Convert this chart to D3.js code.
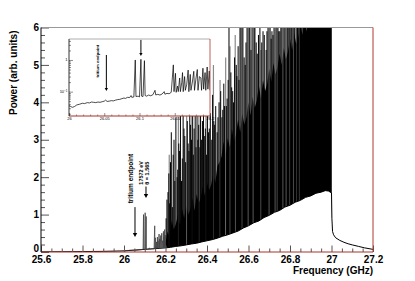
<!DOCTYPE html>
<html>
<head>
<meta charset="utf-8">
<script src="https://cdnjs.cloudflare.com/ajax/libs/d3/7.8.5/d3.min.js"></script>
<style>
body { margin: 0; background: #fff; }
svg { display: block; font-family: "Liberation Sans", Arial, sans-serif; }
.axis text { font-size: 10px; font-weight: bold; fill: #000; }
.axis line { stroke: #555; }
.axis path { display: none; }
.iaxis text { font-size: 4px; fill: #000; }
.iaxis line { stroke: #444; stroke-width: 0.6; }
.iaxis path { display: none; }
</style>
</head>
<body>
<svg width="415" height="281"></svg>
<script>
// ---- data ----
var xTicks = [25.6, 25.8, 26.0, 26.2, 26.4, 26.6, 26.8, 27.0, 27.2],
    xTickLabels = ["25.6", "25.8", "26", "26.2", "26.4", "26.6", "26.8", "27", "27.2"],
    yTicks = [0, 1, 2, 3, 4, 5, 6],
    yTickLabels = ["0", "1", "2", "3", "4", "5", "6"];

var insetXTicks = [26.0, 26.05, 26.1, 26.15, 26.2],
    insetXTickLabels = ["26", "26.05", "26.1", "26.15", "26.2"];

// lower edge of the spectrum (white below it)
var baseFreq  = [25.6, 25.7, 25.8, 25.9, 26.0, 26.05, 26.1, 26.15, 26.2, 26.225, 26.25, 26.275,
                 26.3, 26.325, 26.35, 26.375, 26.4, 26.425, 26.45, 26.475, 26.5, 26.525, 26.55,
                 26.575, 26.6, 26.625, 26.65, 26.675, 26.7, 26.725, 26.75, 26.775, 26.8, 26.825,
                 26.85, 26.875, 26.9, 26.925, 26.95, 26.97, 26.985, 27.0, 27.002, 27.005, 27.01,
                 27.02, 27.04, 27.06, 27.08, 27.1, 27.13, 27.16, 27.2],
    basePower = [0.004, 0.007, 0.011, 0.017, 0.03, 0.045, 0.065, 0.09, 0.11, 0.125, 0.15, 0.165,
                 0.19, 0.215, 0.235, 0.27, 0.30, 0.33, 0.37, 0.42, 0.46, 0.51, 0.56,
                 0.64, 0.70, 0.78, 0.83, 0.92, 0.98, 1.06, 1.11, 1.20, 1.25, 1.33,
                 1.38, 1.46, 1.50, 1.57, 1.60, 1.64, 1.63, 1.58, 0.9, 0.55, 0.46,
                 0.38, 0.31, 0.26, 0.22, 0.19, 0.15, 0.11, 0.07];

// top of the dense noise band
var bandFreq = [26.20, 26.21, 26.22, 26.23, 26.24, 26.25, 26.26, 26.27, 26.28, 26.29,
                26.30, 26.31, 26.32, 26.33, 26.34, 26.35, 26.36, 26.37, 26.38, 26.39,
                26.40, 26.41, 26.42, 26.43, 26.44, 26.45, 26.46, 26.47, 26.48, 26.49,
                26.50, 26.51, 26.52, 26.53, 26.54, 26.55, 26.56, 26.57, 26.58, 26.59,
                26.60, 26.61, 26.62, 26.63, 26.64, 26.65, 26.66, 26.67, 26.68, 26.69,
                26.70, 26.71, 26.72, 26.73, 26.74, 26.75, 26.76, 26.77, 26.78, 26.79,
                26.80, 26.81, 26.82, 26.83, 26.84, 26.85, 26.86, 26.87, 26.88, 26.89,
                26.90, 26.91, 26.92, 26.93, 26.94, 26.95, 26.96, 26.97, 26.98, 26.99, 27.00],
    bandTop = [0.25, 0.55, 0.40, 0.85, 0.60, 0.75, 1.00, 0.70, 1.15, 0.90,
               1.25, 1.00, 1.15, 1.45, 1.10, 1.55, 1.30, 1.45, 1.75, 1.50,
               1.85, 1.65, 1.80, 2.10, 1.85, 2.30, 2.40, 2.55, 2.95, 2.60,
               3.05, 2.80, 3.30, 2.95, 3.15, 3.55, 3.20, 3.70, 3.40, 3.60,
               4.00, 3.65, 4.15, 3.85, 4.05, 4.45, 4.10, 4.60, 4.30, 4.50,
               4.90, 4.55, 5.05, 4.75, 4.95, 5.30, 5.00, 5.45, 5.15, 5.35,
               5.70, 5.40, 5.85, 5.55, 5.75, 6.10, 5.80, 6.20, 5.90, 6.10,
               6.30, 6.00, 6.30, 6.10, 6.30, 6.20, 6.40, 6.10, 6.40, 6.20, 6.40];

// single lines sticking out of the band: [frequency, power]
var spikesBlack = [
  [26.203, 0.9], [26.207, 1.4], [26.212, 1.6], [26.216, 2.1], [26.220, 1.3], [26.224, 2.4],
  [26.228, 3.2], [26.233, 1.2], [26.237, 2.6], [26.241, 3.0], [26.245, 1.9], [26.250, 3.6],
  [26.256, 2.0], [26.259, 2.2], [26.264, 2.9], [26.268, 2.7], [26.272, 3.9], [26.277, 1.9],
  [26.281, 2.5], [26.285, 4.4], [26.289, 3.3], [26.293, 3.1], [26.297, 2.4], [26.305, 3.5],
  [26.309, 2.9], [26.313, 2.7], [26.317, 4.0], [26.321, 3.4], [26.325, 3.0], [26.331, 5.2],
  [26.334, 2.6], [26.338, 3.3], [26.343, 3.8], [26.347, 2.8], [26.352, 4.1], [26.356, 3.0],
  [26.360, 3.4], [26.366, 2.8], [26.369, 4.6], [26.374, 3.0], [26.378, 3.5], [26.383, 3.8],
  [26.389, 3.1], [26.392, 3.3], [26.398, 2.6], [26.402, 4.0], [26.407, 3.2], [26.411, 3.3],
  [26.416, 3.7], [26.423, 3.0], [26.427, 4.2], [26.433, 3.5], [26.437, 3.4], [26.442, 3.9],
  [26.449, 3.2], [26.453, 3.6], [26.458, 4.0], [26.466, 4.3], [26.472, 3.6], [26.476, 3.8],
  [26.481, 4.5], [26.484, 3.9], [26.493, 3.9], [26.497, 4.1], [26.502, 4.6], [26.506, 6.5],
  [26.515, 4.8], [26.519, 4.4], [26.524, 4.3], [26.528, 4.0], [26.533, 5.2], [26.541, 5.0],
  [26.544, 4.7], [26.550, 5.5], [26.554, 4.6], [26.559, 6.5], [26.564, 6.5], [26.573, 6.5],
  [26.579, 5.2], [26.584, 5.0], [26.588, 5.6], [26.593, 6.5], [26.603, 6.5], [26.607, 6.5],
  [26.612, 5.4], [26.617, 6.5], [26.627, 6.5], [26.631, 6.5], [26.637, 5.6], [26.642, 5.3],
  [26.648, 5.8], [26.655, 6.5], [26.664, 5.6], [26.670, 5.9], [26.676, 5.8], [26.685, 5.4],
  [26.689, 5.9], [26.694, 6.5], [26.704, 6.5], [26.709, 5.7], [26.713, 5.9], [26.718, 5.8],
  [26.723, 6.5], [26.733, 6.5], [26.742, 6.5], [26.746, 5.9], [26.751, 5.9], [26.756, 6.0],
  [26.761, 6.5], [26.771, 6.5], [26.776, 6.5], [26.786, 6.5], [26.790, 6.5], [26.795, 6.5],
  [26.801, 6.5], [26.808, 6.5], [26.814, 6.5], [26.821, 6.5], [26.829, 6.5], [26.836, 6.5],
  [26.842, 6.5], [26.848, 6.5], [26.852, 6.5], [26.857, 6.5], [26.862, 6.5], [26.866, 6.5],
  [26.871, 6.5], [26.875, 6.5], [26.881, 6.5], [26.885, 6.5], [26.890, 6.5], [26.895, 6.5],
  [26.899, 6.5], [26.904, 6.5], [26.908, 6.5], [26.913, 6.5], [26.917, 6.5], [26.922, 6.5],
  [26.926, 6.5], [26.931, 6.5], [26.935, 6.5], [26.940, 6.5], [26.944, 6.5], [26.949, 6.5],
  [26.953, 6.5], [26.958, 6.5], [26.962, 6.5], [26.967, 6.5], [26.971, 6.5], [26.976, 6.5],
  [26.980, 6.5], [26.985, 6.5], [26.989, 6.5], [26.994, 6.5], [26.998, 6.5]
];
var spikesGray = [
  [26.218, 2.6], [26.262, 3.6], [26.302, 4.5], [26.327, 3.9], [26.361, 4.8], [26.395, 4.2],
  [26.431, 5.0], [26.463, 4.6], [26.490, 5.2], [26.511, 5.5], [26.536, 5.8], [26.569, 6.5],
  [26.598, 6.5], [26.622, 6.5], [26.660, 5.4], [26.699, 6.5], [26.728, 6.5], [26.738, 6.5],
  [26.766, 6.5], [26.781, 6.5], [26.798, 6.5], [26.817, 6.5], [26.833, 6.5], [26.845, 6.5]
];

// zoomed region 26.0 - 26.2 (shown in the inset, log scale)
var zoomFreq = [26.000, 26.002, 26.005, 26.008, 26.011, 26.015, 26.019, 26.022, 26.026, 26.029,
                26.032, 26.035, 26.038, 26.041, 26.044, 26.047, 26.050, 26.052, 26.054, 26.057,
                26.060, 26.063, 26.066, 26.069, 26.072, 26.075, 26.078, 26.080, 26.083, 26.086,
                26.088, 26.089, 26.092, 26.094, 26.095, 26.098, 26.100, 26.102, 26.103, 26.105,
                26.107, 26.108, 26.110, 26.113, 26.116, 26.119, 26.122, 26.123, 26.126, 26.129,
                26.132, 26.135, 26.136, 26.139, 26.142, 26.145, 26.148, 26.149, 26.151, 26.152,
                26.154, 26.155, 26.157, 26.158, 26.160, 26.161, 26.162, 26.164, 26.165, 26.167,
                26.169, 26.170, 26.172, 26.173, 26.175, 26.177, 26.178, 26.180, 26.182, 26.183,
                26.185, 26.187, 26.188, 26.190, 26.191, 26.193, 26.194, 26.196, 26.197, 26.199, 26.200],
    zoomPower = [0.036, 0.034, 0.032, 0.034, 0.038, 0.040, 0.043, 0.042, 0.045, 0.044,
                 0.047, 0.046, 0.045, 0.047, 0.046, 0.048, 0.050, 0.054, 0.049, 0.050,
                 0.052, 0.051, 0.054, 0.056, 0.057, 0.060, 0.063, 0.061, 0.066, 0.065,
                 0.075, 0.066, 0.068, 1.00, 0.070, 0.072, 0.068, 1.05, 0.072, 0.070,
                 0.95, 0.075, 0.072, 0.078, 0.074, 0.080, 0.11, 0.079, 0.082, 0.078,
                 0.084, 0.10, 0.083, 0.088, 0.086, 0.095, 0.70, 0.10, 0.38, 0.095,
                 0.15, 0.10, 0.27, 0.10, 0.20, 0.40, 0.10, 0.30, 0.11, 0.17,
                 0.48, 0.10, 0.35, 0.11, 0.20, 0.44, 0.11, 0.25, 0.50, 0.11,
                 0.30, 0.27, 0.11, 0.55, 0.12, 0.40, 0.11, 0.60, 0.12, 0.45, 0.11];

// annotation arrows: frequency, start power, end power
var mainArrows = [[26.053, 1.2, 0.4], [26.106, 1.75, 1.44]],
    insetArrows = [[26.053, 1.44, 0.105], [26.102, 4.3, 1.34]];

// ---- layout ----
var svg = d3.select("svg"),
    margin = {top: 27.5, right: 42, bottom: 29, left: 41},
    width = +svg.attr("width") - margin.left - margin.right,
    height = +svg.attr("height") - margin.top - margin.bottom;

var x = d3.scaleLinear().domain([25.6, 27.2]).range([0, width]),
    y = d3.scaleLinear().domain([0, 6]).range([height, 0]);

var base = baseFreq.map(function(f, i) { return [f, basePower[i]]; }),
    band = bandFreq.map(function(f, i) { return [f, bandTop[i]]; }),
    zoom = zoomFreq.map(function(f, i) { return [f, zoomPower[i]]; });

svg.append("defs").append("clipPath")
    .attr("id", "clip")
    .append("rect")
    .attr("width", width)
    .attr("height", height);

var focus = svg.append("g")
    .attr("transform", "translate(" + margin.left + "," + margin.top + ")");

var plot = focus.append("g").attr("clip-path", "url(#clip)");

// dense band, filled from zero; white area below the baseline cleans it up
plot.append("path")
    .datum(band)
    .attr("fill", "#000")
    .attr("d", d3.area()
        .x(function(d) { return x(d[0]); })
        .y0(y(0))
        .y1(function(d) { return y(d[1]); }));

plot.selectAll("line.gray")
    .data(spikesGray)
    .join("line")
    .attr("class", "gray")
    .attr("x1", function(d) { return x(d[0]); })
    .attr("x2", function(d) { return x(d[0]); })
    .attr("y1", y(0))
    .attr("y2", function(d) { return y(d[1]); })
    .attr("stroke", "#8a8a8a")
    .attr("stroke-width", 1.2);

plot.selectAll("line.black")
    .data(spikesBlack)
    .join("line")
    .attr("class", "black")
    .attr("x1", function(d) { return x(d[0]); })
    .attr("x2", function(d) { return x(d[0]); })
    .attr("y1", y(0))
    .attr("y2", function(d) { return y(d[1]); })
    .attr("stroke", "#000")
    .attr("stroke-width", 1);

plot.append("path")
    .datum(base)
    .attr("fill", "#fff")
    .attr("d", d3.area()
        .x(function(d) { return x(d[0]); })
        .y0(y(0) + 1)
        .y1(function(d) { return y(d[1]); }));

var line = d3.line()
    .x(function(d) { return x(d[0]); })
    .y(function(d) { return y(d[1]); });

plot.append("path")
    .datum(base.filter(function(d) { return d[0] <= 26.0 || d[0] >= 26.2; }))
    .attr("fill", "none")
    .attr("stroke", "#000")
    .attr("stroke-width", 1)
    .attr("d", line);

plot.append("path")
    .datum(zoom)
    .attr("fill", "none")
    .attr("stroke", "#444")
    .attr("stroke-width", 0.8)
    .attr("d", line);

// axes
var xAxis = d3.axisBottom(x)
    .tickValues(xTicks)
    .tickSize(-6.5)
    .tickPadding(3.5)
    .tickFormat(function(d, i) { return xTickLabels[i]; });

var xMinor = d3.axisBottom(x)
    .tickValues(d3.range(25.6, 27.21, 0.05).filter(function(v) { return Math.abs(v * 5 - Math.round(v * 5)) > 0.01; }))
    .tickSize(-3.5)
    .tickFormat("");

var yAxis = d3.axisLeft(y)
    .tickValues(yTicks)
    .tickSize(-8)
    .tickPadding(2)
    .tickFormat(function(d, i) { return yTickLabels[i]; });

var yMinor = d3.axisLeft(y)
    .tickValues(d3.range(0, 6.01, 0.2).filter(function(v) { return Math.abs(v - Math.round(v)) > 0.01; }))
    .tickSize(-4)
    .tickFormat("");

focus.append("g").attr("class", "axis").attr("transform", "translate(0," + height + ")").call(xMinor);
focus.append("g").attr("class", "axis").attr("transform", "translate(0," + height + ")").call(xAxis);
focus.append("g").attr("class", "axis").call(yMinor);
focus.append("g").attr("class", "axis").call(yAxis)
    .selectAll("text")
    .attr("y", function(d) { return d === 0 ? -3.5 : 0; });

// frame
focus.append("line").attr("x1", 0).attr("x2", width).attr("y1", 0).attr("y2", 0)
    .attr("stroke", "#999").attr("stroke-width", 1);
focus.append("line").attr("x1", width).attr("x2", width).attr("y1", 0).attr("y2", height)
    .attr("stroke", "#b03a2e").attr("stroke-width", 1);
focus.append("line").attr("x1", 0).attr("x2", width).attr("y1", height).attr("y2", height)
    .attr("stroke", "#a8302a").attr("stroke-width", 1);
focus.append("line").attr("x1", 0).attr("x2", 0).attr("y1", 0).attr("y2", height)
    .attr("stroke", "#000").attr("stroke-width", 1);

// titles
svg.append("text")
    .attr("x", margin.left + width)
    .attr("y", 273.5)
    .attr("text-anchor", "end")
    .attr("font-size", 10)
    .attr("font-weight", "bold")
    .text("Frequency (GHz)");

svg.append("text")
    .attr("transform", "translate(16.5," + (margin.top + 3) + ") rotate(-90)")
    .attr("text-anchor", "end")
    .attr("font-size", 10)
    .attr("font-weight", "bold")
    .text("Power (arb. units)");

// arrows
function drawArrow(g, px, py0, py1, head) {
  g.append("line")
      .attr("x1", px).attr("x2", px)
      .attr("y1", py0).attr("y2", py1 - head)
      .attr("stroke", "#000").attr("stroke-width", 1);
  g.append("path")
      .attr("d", "M" + (px - head * 0.55) + "," + (py1 - head) + "L" + (px + head * 0.55) + "," + (py1 - head) + "L" + px + "," + py1 + "Z")
      .attr("fill", "#000");
}

mainArrows.forEach(function(a) {
  drawArrow(focus, x(a[0]), y(a[1]), y(a[2]), 4);
});

focus.append("text")
    .attr("transform", "translate(" + (x(26.053) - 1.5) + "," + y(1.3) + ") rotate(-90)")
    .attr("font-size", 6.5)
    .attr("font-weight", "bold")
    .text("tritium endpoint");

focus.append("text")
    .attr("transform", "translate(" + (x(26.106) - 2.5) + "," + y(1.8) + ") rotate(-90)")
    .attr("font-size", 5.5)
    .attr("font-weight", "bold")
    .text("17572 eV");

focus.append("text")
    .attr("transform", "translate(" + (x(26.106) + 3.5) + "," + y(1.8) + ") rotate(-90)")
    .attr("font-size", 5.5)
    .attr("font-weight", "bold")
    .text("\u03b8 = 1.565");

// ---- inset ----
var inset = {left: 69, top: 39, width: 141, height: 77};

var xi = d3.scaleLinear().domain([26.0, 26.2]).range([0, inset.width]),
    yi = d3.scaleLog().domain([0.017, 4.6]).range([inset.height, 0]);

var ig = svg.append("g")
    .attr("transform", "translate(" + inset.left + "," + inset.top + ")");

ig.append("rect")
    .attr("width", inset.width)
    .attr("height", inset.height)
    .attr("fill", "#fff");

svg.select("defs").append("clipPath")
    .attr("id", "iclip")
    .append("rect")
    .attr("width", inset.width)
    .attr("height", inset.height);

ig.append("g").attr("clip-path", "url(#iclip)")
    .append("path")
    .datum(zoom)
    .attr("fill", "none")
    .attr("stroke", "#000")
    .attr("stroke-width", 0.7)
    .attr("d", d3.line()
        .x(function(d) { return xi(d[0]); })
        .y(function(d) { return yi(d[1]); }));

var xiAxis = d3.axisBottom(xi)
    .tickValues(insetXTicks)
    .tickSize(-3)
    .tickPadding(1.5)
    .tickFormat(function(d, i) { return insetXTickLabels[i]; });

var xiMinor = d3.axisBottom(xi)
    .tickValues(d3.range(26.01, 26.2, 0.01).filter(function(v) { return Math.abs(v * 20 - Math.round(v * 20)) > 0.01; }))
    .tickSize(-1.5)
    .tickFormat("");

var yiMinor = d3.axisLeft(yi)
    .tickValues([0.02, 0.03, 0.04, 0.05, 0.06, 0.07, 0.08, 0.09, 0.2, 0.3, 0.4, 0.5, 0.6, 0.7, 0.8, 0.9, 2, 3, 4])
    .tickSize(-2)
    .tickFormat("");

var yiAxis = d3.axisLeft(yi)
    .tickValues([0.1, 1])
    .tickSize(-4)
    .tickPadding(1)
    .tickFormat("");

ig.append("g").attr("class", "iaxis").attr("transform", "translate(0," + inset.height + ")").call(xiMinor);
ig.append("g").attr("class", "iaxis").attr("transform", "translate(0," + inset.height + ")").call(xiAxis);
ig.append("g").attr("class", "iaxis").call(yiMinor);
ig.append("g").attr("class", "iaxis").call(yiAxis);

ig.append("text")
    .attr("x", -1.5).attr("y", yi(1)).attr("dy", "0.35em")
    .attr("text-anchor", "end").attr("font-size", 4)
    .text("1");

var t10 = ig.append("text")
    .attr("x", -1.5).attr("y", yi(0.1)).attr("dy", "0.35em")
    .attr("text-anchor", "end").attr("font-size", 4);
t10.append("tspan").text("10");
t10.append("tspan").attr("dy", "-1.5").attr("font-size", 3).text("\u22121");

ig.append("line").attr("x1", 0).attr("x2", inset.width).attr("y1", 0).attr("y2", 0)
    .attr("stroke", "#999").attr("stroke-width", 0.8);
ig.append("line").attr("x1", inset.width).attr("x2", inset.width).attr("y1", 0).attr("y2", inset.height)
    .attr("stroke", "#b03a2e").attr("stroke-width", 0.8);
ig.append("line").attr("x1", 0).attr("x2", inset.width).attr("y1", inset.height).attr("y2", inset.height)
    .attr("stroke", "#a8302a").attr("stroke-width", 1);
ig.append("line").attr("x1", 0).attr("x2", 0).attr("y1", 0).attr("y2", inset.height)
    .attr("stroke", "#000").attr("stroke-width", 0.8);

insetArrows.forEach(function(a) {
  drawArrow(ig, xi(a[0]), yi(a[1]), yi(a[2]), 3);
});

ig.append("text")
    .attr("transform", "translate(" + (xi(26.053) - 7.5) + "," + yi(0.28) + ") rotate(-90)")
    .attr("font-size", 4.3)
    .attr("font-weight", "bold")
    .text("tritium endpoint");
</script>
</body>
</html>
